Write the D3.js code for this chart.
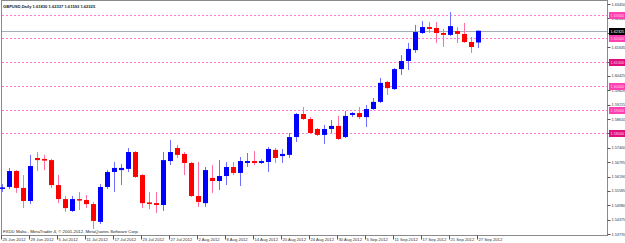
<!DOCTYPE html>
<html>
<head>
<meta charset="utf-8">
<script src="https://cdn.jsdelivr.net/npm/d3@7"></script>
<style>
  body { margin: 0; background: #fff; }
  svg { display: block; font-family: "Liberation Sans", Arial, sans-serif; }
</style>
</head>
<body>
<div id="chart"></div>
<script>
// GBPUSD daily bars, 25 Jun - 27 Sep 2012
const dates = ["25 Jun","26 Jun","27 Jun","28 Jun","29 Jun","2 Jul","3 Jul","4 Jul","5 Jul","6 Jul",
  "9 Jul","10 Jul","11 Jul","12 Jul","13 Jul","16 Jul","17 Jul","18 Jul","19 Jul","20 Jul",
  "23 Jul","24 Jul","25 Jul","26 Jul","27 Jul","30 Jul","31 Jul","1 Aug","2 Aug","3 Aug",
  "6 Aug","7 Aug","8 Aug","9 Aug","10 Aug","13 Aug","14 Aug","15 Aug","16 Aug","17 Aug",
  "20 Aug","21 Aug","22 Aug","23 Aug","24 Aug","27 Aug","28 Aug","29 Aug","30 Aug","31 Aug",
  "3 Sep","4 Sep","5 Sep","6 Sep","7 Sep","10 Sep","11 Sep","12 Sep","13 Sep","14 Sep",
  "17 Sep","18 Sep","19 Sep","20 Sep","21 Sep","24 Sep","25 Sep","26 Sep","27 Sep"]

const open = [1.5568,1.5575,1.5642,1.5571,1.5516,1.5697,1.5693,1.5688,1.5583,1.5524,
  1.5474,1.5524,1.5520,1.5503,1.5428,1.5575,1.5638,1.5646,1.5651,1.5722,
  1.5625,1.5510,1.5507,1.5499,1.5684,1.5739,1.5714,1.5676,1.5537,1.5507,
  1.5613,1.5600,1.5621,1.5659,1.5634,1.5676,1.5684,1.5676,1.5680,1.5731,
  1.5705,1.5710,1.5785,1.5882,1.5861,1.5819,1.5794,1.5819,1.5832,1.5785,
  1.5878,1.5886,1.5869,1.5903,1.5933,1.6017,1.5987,1.6071,1.6105,1.6151,
  1.6223,1.6248,1.6244,1.6223,1.6215,1.6231,1.6219,1.6185,1.61830]
const high = [1.5587,1.5655,1.5646,1.5625,1.5710,1.5722,1.5710,1.5693,1.5625,1.5537,
  1.5537,1.5554,1.5541,1.5512,1.5587,1.5646,1.5680,1.5672,1.5739,1.5726,
  1.5630,1.5554,1.5554,1.5722,1.5773,1.5752,1.5722,1.5680,1.5680,1.5659,
  1.5667,1.5688,1.5680,1.5680,1.5701,1.5718,1.5726,1.5691,1.5743,1.5739,
  1.5735,1.5802,1.5886,1.5912,1.5869,1.5823,1.5836,1.5857,1.5874,1.5895,
  1.5890,1.5912,1.5920,1.5949,1.6034,1.6021,1.6076,1.6130,1.6181,1.6257,
  1.6273,1.6269,1.6269,1.6240,1.6311,1.6248,1.6265,1.6206,1.62337]
const low = [1.5554,1.5566,1.5550,1.5486,1.5503,1.5642,1.5646,1.5571,1.5507,1.5470,
  1.5470,1.5478,1.5486,1.5398,1.5419,1.5566,1.5554,1.5583,1.5638,1.5613,
  1.5486,1.5482,1.5465,1.5474,1.5667,1.5697,1.5625,1.5533,1.5491,1.5491,
  1.5550,1.5562,1.5583,1.5625,1.5579,1.5659,1.5667,1.5672,1.5638,1.5676,
  1.5676,1.5697,1.5764,1.5857,1.5798,1.5789,1.5756,1.5802,1.5773,1.5781,
  1.5869,1.5861,1.5827,1.5899,1.5928,1.5962,1.5983,1.6046,1.6067,1.6139,
  1.6219,1.6223,1.6181,1.6164,1.6210,1.6181,1.6181,1.6139,1.61593]
const close = [1.5573,1.5642,1.5571,1.5516,1.5663,1.5688,1.5686,1.5583,1.5524,1.5486,
  1.5524,1.5518,1.5503,1.5432,1.5575,1.5638,1.5655,1.5655,1.5722,1.5617,
  1.5507,1.5503,1.5499,1.5688,1.5722,1.5710,1.5676,1.5537,1.5512,1.5646,
  1.5600,1.5621,1.5659,1.5634,1.5684,1.5684,1.5676,1.5684,1.5735,1.5697,
  1.5714,1.5785,1.5882,1.5861,1.5802,1.5794,1.5819,1.5832,1.5777,1.5874,
  1.5886,1.5869,1.5903,1.5933,1.6013,1.5991,1.6071,1.6105,1.6156,1.6227,
  1.6248,1.6240,1.6223,1.6215,1.6252,1.6219,1.6185,1.6164,1.62325]

const priceTicks = [1.63450,1.62845,1.62240,1.61635,1.61030,1.60425,1.59820,1.59215,1.58610,
  1.58005,1.57400,1.56795,1.56190,1.55585,1.54980,1.54375,1.53770]
const levels = [1.6300, 1.6200, 1.6100, 1.6000, 1.5900, 1.5800]
const levelDark = [false, false, true, false, false, true]
const dateTicks = ["25 Jun","29 Jun","5 Jul","11 Jul","17 Jul","23 Jul","27 Jul","2 Aug","8 Aug",
  "14 Aug","20 Aug","24 Aug","30 Aug","5 Sep","11 Sep","17 Sep","21 Sep","27 Sep"]

const title = "GBPUSD,Daily  1.61830 1.62337 1.61593 1.62325"
const credit = "FXDD Malta - MetaTrader 4, \u00a9 2001-2012, MetaQuotes Software Corp."

const width = 625, height = 243
const plot = { left: 1.5, right: 607.5, top: 0.5, bottom: 235.5 }
const axisFont = 3.8

const svg = d3.select('#chart').append('svg')
  .attr('width', width)
  .attr('height', height)

const x = d3.scalePoint().domain(dates).range([2, 478])
const y = d3.scaleLinear().domain([priceTicks[priceTicks.length - 1], priceTicks[0]]).range([234, 4])

// frame
svg.append('rect')
  .attr('x', plot.left).attr('y', plot.top)
  .attr('width', plot.right - plot.left).attr('height', plot.bottom - plot.top)
  .attr('fill', 'none').attr('stroke', '#8a8a8a')

// horizontal levels
svg.selectAll('.level').data(levels).enter().append('line')
  .attr('class', 'level')
  .attr('x1', 2).attr('x2', plot.right)
  .attr('y1', d => Math.round(y(d)) + 0.5)
  .attr('y2', d => Math.round(y(d)) + 0.5)
  .attr('stroke', '#ff7ad2')
  .attr('stroke-dasharray', '2,2')

// bid line
const last = close[close.length - 1]
svg.append('line')
  .attr('x1', 2).attr('x2', plot.right)
  .attr('y1', Math.round(y(last)) + 0.5).attr('y2', Math.round(y(last)) + 0.5)
  .attr('stroke', '#a4aebb')

// candles
const bars = dates.map((d, i) => ({ d, o: open[i], h: high[i], l: low[i], c: close[i] }))
const candle = svg.selectAll('.candle').data(bars).enter().append('g').attr('class', 'candle')

candle.append('line')
  .attr('x1', d => Math.round(x(d.d)) + 0.5)
  .attr('x2', d => Math.round(x(d.d)) + 0.5)
  .attr('y1', d => y(d.h))
  .attr('y2', d => y(d.l))
  .attr('stroke', d => d.c >= d.o ? '#6f6fff' : '#ff6f9f')

candle.append('rect')
  .attr('x', d => Math.round(x(d.d)) - 2)
  .attr('width', 5)
  .attr('y', d => y(Math.max(d.o, d.c)))
  .attr('height', d => Math.max(1.5, Math.abs(y(d.o) - y(d.c))))
  .attr('fill', d => d.c >= d.o ? '#0000ff' : '#ff0000')

// right axis
svg.append('line')
  .attr('x1', plot.right).attr('x2', plot.right)
  .attr('y1', 0).attr('y2', plot.bottom)
  .attr('stroke', '#8a8a8a')
const yAxis = svg.append('g')
yAxis.selectAll('line').data(priceTicks).enter().append('line')
  .attr('x1', plot.right).attr('x2', plot.right + 3)
  .attr('y1', d => Math.round(y(d)) + 0.5).attr('y2', d => Math.round(y(d)) + 0.5)
  .attr('stroke', '#555')
yAxis.selectAll('text').data(priceTicks).enter().append('text')
  .attr('x', 611.5)
  .attr('y', d => y(d) + 1.5)
  .attr('font-size', axisFont)
  .attr('fill', '#333')
  .text(d => d.toFixed(5))

// level labels
const levelLabel = svg.selectAll('.lvl').data(levels).enter().append('g').attr('class', 'lvl')
levelLabel.append('rect')
  .attr('x', 609).attr('width', 16)
  .attr('y', d => Math.round(y(d)) - 3).attr('height', 7)
  .attr('fill', (d, i) => levelDark[i] ? '#e0107f' : '#ff40b0')
levelLabel.append('text')
  .attr('x', 610.5).attr('y', d => y(d) + 2)
  .attr('font-size', axisFont).attr('fill', '#ffd0ea')
  .text(d => d.toFixed(5))

// bid label
svg.append('rect')
  .attr('x', 609).attr('width', 16)
  .attr('y', Math.round(y(last)) - 3).attr('height', 7)
  .attr('fill', '#000')
svg.append('text')
  .attr('x', 610.5).attr('y', y(last) + 2)
  .attr('font-size', axisFont).attr('fill', '#fff')
  .text(last.toFixed(5))

// bottom axis
const xAxis = svg.append('g')
xAxis.selectAll('line').data(dateTicks).enter().append('line')
  .attr('x1', d => Math.round(x(d)) - 0.5).attr('x2', d => Math.round(x(d)) - 0.5)
  .attr('y1', plot.bottom).attr('y2', plot.bottom + 4)
  .attr('stroke', '#555')
xAxis.selectAll('text').data(dateTicks).enter().append('text')
  .attr('x', d => Math.round(x(d)) + 0.5)
  .attr('y', 241)
  .attr('font-size', 4.2)
  .attr('fill', '#333')
  .text(d => d + ' 2012')

// title and credit
svg.append('text')
  .attr('x', 3).attr('y', 8)
  .attr('font-size', 4.1).attr('font-weight', 'bold').attr('fill', '#222')
  .text(title)
svg.append('text')
  .attr('x', 3).attr('y', 233)
  .attr('font-size', 4.3).attr('fill', '#222')
  .text(credit)
</script>
</body>
</html>
